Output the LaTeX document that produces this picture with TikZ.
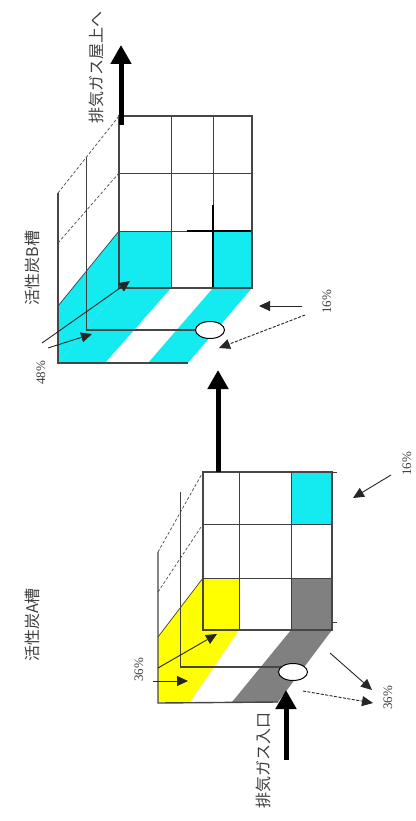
\documentclass[tikz,border=0pt]{standalone}
\usepackage{fontspec}
\setmainfont{Liberation Serif}
\newfontfamily\jfont{Noto Sans CJK JP}
\usetikzlibrary{arrows.meta,shapes.geometric}
\definecolor{cyanfill}{RGB}{20,235,240}
\definecolor{yellowfill}{RGB}{255,255,0}
\definecolor{greyfill}{RGB}{128,128,128}
\definecolor{edgecol}{RGB}{70,70,70}
\tikzset{
  boxedge/.style={draw=edgecol, line width=1.4pt},
  gridline/.style={draw=black!75, line width=0.7pt},
  hiddenline/.style={draw=black!70, dashed, line width=0.7pt, dash pattern=on 3pt off 2pt},
  midline/.style={draw=edgecol, line width=1.3pt},
  flow/.style={-{Triangle[length=19pt,width=20pt]}, line width=5pt, black},
  share/.style={-{Triangle[length=11pt,width=10pt]}, line width=0.9pt, black!85},
  shared/.style={share, dash pattern=on 3pt off 1.5pt},
  valve/.style={ellipse, draw=black, fill=white, line width=1pt, minimum width=29pt, minimum height=17pt, inner sep=0pt},
  jlabel/.style={rotate=90, font=\jfont\fontsize{16}{16}\selectfont, text=black!75, inner sep=0pt},
  pct/.style={rotate=90, font=\fontsize{13}{13}\selectfont, text=black!75, inner sep=0pt}
}
\begin{document}
\begin{tikzpicture}[x=1pt,y=-1pt]
\useasboundingbox (0,0) rectangle (415,821);
\fill[white] (0,0) rectangle (415,821);

% ---------- tank B (upper) ----------
% coloured faces
\fill[cyanfill] (119,231) -- (119,288) -- (58,363) -- (58,306) -- cycle;
\fill[cyanfill] (119,288) -- (171,288) -- (105,363) -- (58,363) -- cycle;
\fill[cyanfill] (213,288) -- (252,288) -- (188,363) -- (148,363) -- cycle;
\fill[cyanfill] (119,231) rectangle (171,288);
\fill[cyanfill] (213,231) rectangle (252,288);
% front grid
\draw[gridline] (171,116) -- (171,288);
\draw[gridline] (213,116) -- (213,205);
\draw[gridline] (119,173) -- (252,173);
\draw[gridline] (119,231) -- (187,231);
\draw[black, line width=1.3pt] (213,205) -- (213,288);
\draw[black, line width=1.3pt] (187,231) -- (252,231);
% outline and depth
\draw[boxedge] (119,116) rectangle (252,288);
\draw[boxedge] (58,193) -- (58,363) -- (188,363);
\draw[hiddenline] (58,193) -- (119,116);
\draw[hiddenline] (58,243) -- (119,173);
\draw[gridline] (58,306) -- (119,231);
\draw[gridline] (86,157) -- (86,330);
\draw[midline] (86,330) -- (200,330);
\node[valve] (valveB) at (210,330) {};

% flow shares in tank B
\coordinate (bInA) at (42,343);  \coordinate (bInAEnd) at (130,281);
\coordinate (bInB) at (48,348);  \coordinate (bInBEnd) at (92,334);
\draw[share] (bInA) -- (bInAEnd);
\draw[share] (bInB) -- (bInBEnd);
\coordinate (bOutA) at (302,306); \coordinate (bOutAEnd) at (259,306);
\coordinate (bOutB) at (305,315); \coordinate (bOutBEnd) at (219,348);
\draw[share] (bOutA) -- (bOutAEnd);
\draw[shared] (bOutB) -- (bOutBEnd);

% ---------- tank A (lower) ----------
\fill[yellowfill] (203,578) -- (203,630) -- (158,703) -- (158,637) -- cycle;
\fill[yellowfill] (203,630) -- (239,630) -- (190,702) -- (158,702) -- cycle;
\fill[greyfill] (291,630) -- (332,630) -- (278,702) -- (232,702) -- cycle;
\fill[yellowfill] (203,578) rectangle (239,630);
\fill[greyfill] (291,578) rectangle (332,630);
\fill[cyanfill] (291,472) rectangle (332,524);
% front grid
\draw[gridline] (239,472) -- (239,630);
\draw[gridline] (291,472) -- (291,630);
\draw[gridline] (203,524) -- (332,524);
\draw[gridline] (203,578) -- (332,578);
% outline and depth
\draw[boxedge] (203,472) rectangle (332,630);
\draw[gridline] (332,472) -- (337,472);
\draw[gridline] (332,622) -- (337,622);
\draw[boxedge] (158,552) -- (158,703) -- (278,702);
\draw[hiddenline] (158,552) -- (203,472);
\draw[hiddenline] (158,592) -- (203,524);
\draw[gridline] (158,637) -- (203,578);
\draw[gridline] (180,492) -- (180,667);
\draw[midline] (180,667) -- (282,667);
\node[valve] (valveA) at (293,672) {};

% flow shares in tank A
\coordinate (aInA) at (158,668); \coordinate (aInAEnd) at (217,634);
\coordinate (aInB) at (153,681); \coordinate (aInBEnd) at (188,681);
\draw[share] (aInA) -- (aInAEnd);
\draw[share] (aInB) -- (aInBEnd);
\coordinate (aOutA) at (330,653); \coordinate (aOutAEnd) at (372,690);
\coordinate (aOutB) at (303,691); \coordinate (aOutBEnd) at (373,703);
\draw[share] (aOutA) -- (aOutAEnd);
\draw[shared] (aOutB) -- (aOutBEnd);
\coordinate (aTop) at (391,475); \coordinate (aTopEnd) at (353,498);
\draw[share] (aTop) -- (aTopEnd);

% ---------- main gas flow ----------
\coordinate (inlet) at (286,760);   \coordinate (inletTip) at (286,690);
\coordinate (aExit) at (218,472);   \coordinate (bEntry) at (218,370);
\coordinate (bExit) at (121,125);   \coordinate (roof) at (121,45);
\draw[flow] (inlet) -- (inletTip);
\draw[flow] (aExit) -- (bEntry);
\draw[flow] (bExit) -- (roof);

% ---------- labels ----------
\node[jlabel] (lblA) at (32,625) {活性炭A槽};
\node[jlabel] (lblB) at (32,268) {活性炭B槽};
\node[jlabel] (lblIn) at (263,760) {排気ガス入口};
\node[jlabel] (lblOut) at (96,68) {排気ガス屋上へ};
\node[pct] (pB48) at (41,373) {48\%};
\node[pct] (pB16) at (327,302) {16\%};
\node[pct] (pA16) at (407,464) {16\%};
\node[pct] (pA36l) at (139,670) {36\%};
\node[pct] (pA36r) at (388,698) {36\%};
\end{tikzpicture}
\end{document}
